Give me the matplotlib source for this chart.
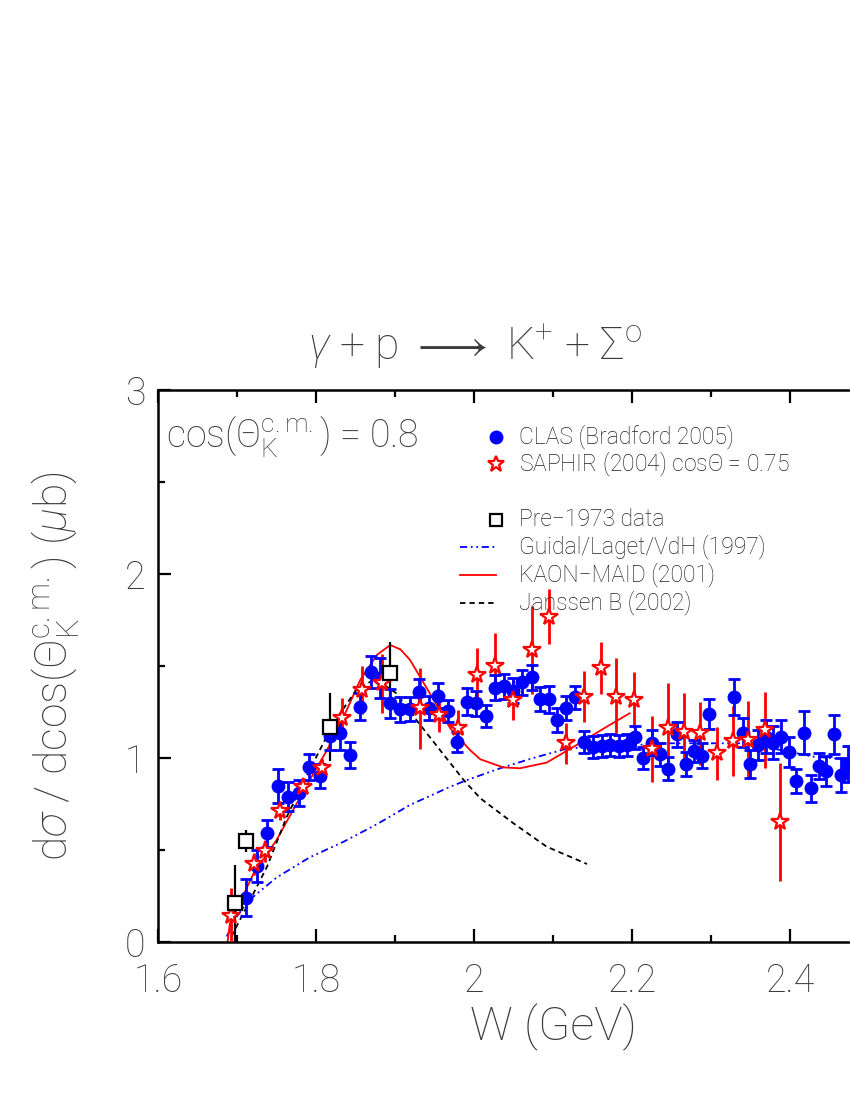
import matplotlib
matplotlib.use("Agg")
import matplotlib.pyplot as plt
from matplotlib.ticker import MultipleLocator

plt.rcParams['font.family'] = ['Roboto', 'DejaVu Sans']
plt.rcParams['font.weight'] = 'light'
plt.rcParams['axes.labelweight'] = 'light'
plt.rcParams['axes.titleweight'] = 'light'
plt.rcParams['mathtext.fontset'] = 'custom'
plt.rcParams['mathtext.rm'] = 'Roboto:light'
plt.rcParams['mathtext.it'] = 'Roboto:italic:light'

# CLAS (Bradford 2005), cos = 0.8
clas_w = [1.711, 1.725, 1.738, 1.752, 1.765, 1.779, 1.791, 1.805, 1.818, 1.830,
          1.843, 1.856, 1.869, 1.881, 1.894, 1.906, 1.919, 1.931, 1.943, 1.955,
          1.967, 1.979, 1.991, 2.003, 2.015, 2.027, 2.038, 2.050, 2.061, 2.073,
          2.084, 2.095, 2.105, 2.117, 2.128, 2.139, 2.150, 2.162, 2.172, 2.183,
          2.194, 2.204, 2.214, 2.225, 2.236, 2.246, 2.257, 2.268, 2.278, 2.289,
          2.298, 2.329, 2.340, 2.349, 2.360, 2.369, 2.379, 2.389, 2.399, 2.408,
          2.418, 2.427, 2.437, 2.446, 2.456, 2.465, 2.474]
clas_y = [0.24, 0.415, 0.59, 0.848, 0.79, 0.81, 0.953, 0.904, 1.12, 1.137,
          1.016, 1.279, 1.466, 1.433, 1.297, 1.264, 1.264, 1.36, 1.27, 1.339,
          1.257, 1.085, 1.306, 1.297, 1.228, 1.382, 1.391, 1.366, 1.411, 1.439,
          1.319, 1.319, 1.207, 1.27, 1.33, 1.089, 1.058, 1.065, 1.072, 1.065,
          1.069, 1.112, 1.0, 1.083, 1.02, 0.942, 1.13, 0.967, 1.038, 1.013,
          1.239, 1.333, 1.138, 0.967, 1.071, 1.116, 1.083, 1.116, 1.034, 0.877,
          1.138, 0.835, 0.957, 0.929, 1.13, 0.908, 0.967]
clas_err = [0.10, 0.087, 0.072, 0.092, 0.079, 0.069, 0.071, 0.065, 0.079, 0.094,
            0.072, 0.072, 0.088, 0.109, 0.079, 0.066, 0.065, 0.07, 0.065, 0.068,
            0.06, 0.054, 0.072, 0.068, 0.061, 0.068, 0.068, 0.068, 0.068, 0.068,
            0.066, 0.074, 0.063, 0.065, 0.061, 0.06, 0.06, 0.06, 0.06, 0.06,
            0.06, 0.063, 0.062, 0.068, 0.063, 0.063, 0.068, 0.063, 0.062, 0.07,
            0.079, 0.099, 0.08, 0.076, 0.08, 0.09, 0.09, 0.09, 0.082, 0.065,
            0.117, 0.072, 0.072, 0.08, 0.106, 0.093, 0.10]

# SAPHIR (2004), cos = 0.75
saphir_w = [1.693, 1.721, 1.735, 1.754, 1.784, 1.808, 1.833, 1.858, 1.884, 1.932,
            1.956, 1.980, 2.004, 2.027, 2.050, 2.073, 2.095, 2.116, 2.139, 2.161,
            2.180, 2.202, 2.225, 2.246, 2.266, 2.286, 2.307, 2.328, 2.347, 2.368,
            2.387]
saphir_y = [0.141, 0.426, 0.496, 0.714, 0.844, 0.944, 1.216, 1.37, 1.406, 1.27,
            1.234, 1.161, 1.451, 1.50, 1.315, 1.587, 1.768, 1.08, 1.333, 1.49,
            1.333, 1.315, 1.047, 1.161, 1.143, 1.134, 1.025, 1.092, 1.098, 1.152,
            0.654]
saphir_err = [0.15, 0.06, 0.06, 0.05, 0.05, 0.05, 0.11, 0.13, 0.16, 0.22,
              0.09, 0.10, 0.145, 0.18, 0.11, 0.24, 0.15, 0.11, 0.14, 0.14,
              0.21, 0.15, 0.18, 0.245, 0.21, 0.17, 0.145, 0.19, 0.21, 0.205,
              0.32]

# Pre-1973 data
old_w = [1.697, 1.712, 1.818, 1.894]
old_y = [0.21, 0.551, 1.167, 1.46]
old_err = [0.21, 0.06, 0.186, 0.17]

# model curves
guidal_w = [1.687, 1.700, 1.716, 1.750, 1.792, 1.835, 1.877, 1.919, 1.970, 1.991,
            2.033, 2.075, 2.117, 2.160, 2.200, 2.250, 2.307, 2.337, 2.380, 2.430,
            2.480]
guidal_y = [0.03, 0.14, 0.23, 0.35, 0.46, 0.545, 0.64, 0.745, 0.844, 0.88,
            0.944, 1.0, 1.05, 1.065, 1.07, 1.08, 1.08, 1.08, 1.05, 1.007,
            0.99]

maid_w = [1.688, 1.691, 1.721, 1.750, 1.771, 1.792, 1.814, 1.835, 1.856, 1.877,
          1.894, 1.907, 1.919, 1.944, 1.970, 1.995, 2.008, 2.037, 2.058, 2.092,
          2.130, 2.168, 2.197]
maid_y = [0.0, 0.10, 0.373, 0.554, 0.717, 0.88, 1.043, 1.224, 1.424, 1.56,
          1.614, 1.59, 1.533, 1.352, 1.161, 1.043, 0.993, 0.949, 0.944, 0.975,
          1.071, 1.17, 1.243]

janssen_w = [1.693, 1.708, 1.738, 1.763, 1.792, 1.822, 1.851, 1.875, 1.902, 1.927,
             1.957, 1.987, 2.008, 2.050, 2.092, 2.143]
janssen_y = [0.03, 0.156, 0.409, 0.681, 0.935, 1.189, 1.37, 1.43, 1.351, 1.207,
             1.043, 0.88, 0.781, 0.645, 0.518, 0.424]

TXT = '#3c3c3c'
BLUE = '#0000ff'
RED = '#ff0000'

fig = plt.figure(figsize=(8.5, 11), dpi=100)
# axes run past the right edge of the page, as in the original
ax = fig.add_axes([158 / 850, 158 / 1100, 790 / 850, 552 / 1100])

ax.plot(guidal_w, guidal_y, color=BLUE, lw=1.3, dashes=[4, 2, 1, 2, 1, 2], zorder=2)
ax.plot(maid_w, maid_y, color=RED, lw=1.3, zorder=2)
ax.plot(janssen_w, janssen_y, color='black', lw=1.3, dashes=[3, 2.2], zorder=2)

ax.errorbar(saphir_w, saphir_y, yerr=saphir_err, fmt='none', ecolor=RED,
            elinewidth=2, zorder=3)
ax.errorbar(old_w, old_y, yerr=old_err, fmt='none', ecolor='black',
            elinewidth=1.6, zorder=3)
ax.errorbar(clas_w, clas_y, yerr=clas_err, fmt='o', color=BLUE, ms=9,
            ecolor=BLUE, elinewidth=2, capsize=4.5, capthick=2, zorder=4)
ax.plot(saphir_w, saphir_y, ls='none', marker='*', ms=13, mfc='white',
        mec=RED, mew=1.6, zorder=5)
ax.plot(old_w, old_y, ls='none', marker='s', ms=10, mfc='white',
        mec='black', mew=1.6, zorder=5)

ax.set_xlim(1.6, 2.6)
ax.set_ylim(0, 3)
ax.xaxis.set_minor_locator(MultipleLocator(0.1))
ax.yaxis.set_minor_locator(MultipleLocator(0.5))
ax.set_xticks([1.6, 1.8, 2.0, 2.2, 2.4])
ax.set_xticklabels(['1.6', '1.8', '2', '2.2', '2.4'])
ax.set_yticks([0, 1, 2, 3])
ax.set_yticklabels(['0', '1', '2', '3'])
ax.tick_params(which='both', direction='in', top=True, right=True, width=1.6,
               labelsize=27, labelcolor=TXT)
ax.tick_params(which='major', length=9.5)
ax.tick_params(which='minor', length=5)
ax.tick_params(axis='x', pad=15)
ax.tick_params(axis='y', pad=9)
for s in ax.spines.values():
    s.set_linewidth(1.8)

ax.set_xlabel('W (GeV)', fontsize=34, color=TXT, labelpad=2)
ax.set_ylabel(r'd$\sigma$ / dcos($\Theta_{\rm K}^{\rm c.m.}$) ($\mu$b)',
              fontsize=32, color=TXT, labelpad=32)
fig.text(475 / 850, 1 - 347 / 1100,
         r'$\gamma$ + p $\longrightarrow$ K$^{+}$ + $\Sigma^{\rm o}$',
         fontsize=32, color=TXT, ha='center', va='center')

ax.text(0.01, 0.915, r'cos($\Theta_{\rm K}^{\rm c.m.}$) = 0.8', transform=ax.transAxes,
        fontsize=27, color=TXT, va='center', ha='left')

# legend drawn by hand, in axes fractions
def fx(px):
    return (px - 158) / 790

def fy(py):
    return (942 - py) / 552

lx0, lx1, tx = fx(460), fx(496), fx(519)
ax.plot([lx1], [fy(437)], 'o', color=BLUE, ms=9, transform=ax.transAxes)
ax.plot([lx1], [fy(464)], '*', ms=12, mfc='white', mec=RED, mew=1.6,
        transform=ax.transAxes)
ax.plot([lx1], [fy(520)], 's', ms=9, mfc='white', mec='black', mew=1.6,
        transform=ax.transAxes)
ax.plot([lx0, lx1], [fy(547)] * 2, color=BLUE, lw=1.3, dashes=[4, 2, 1, 2, 1, 2],
        transform=ax.transAxes)
ax.plot([lx0, lx1], [fy(575)] * 2, color=RED, lw=1.3, transform=ax.transAxes)
ax.plot([lx0, lx1], [fy(603)] * 2, color='black', lw=1.3, dashes=[3, 2.2],
        transform=ax.transAxes)
labels = [(437, 'CLAS (Bradford 2005)'),
          (464, r'SAPHIR (2004) cos$\Theta$ = 0.75'),
          (520, 'Pre\u22121973 data'),
          (547, 'Guidal/Laget/VdH (1997)'),
          (575, 'KAON\u2212MAID (2001)'),
          (603, 'Janssen B (2002)')]
for py, t in labels:
    ax.text(tx, fy(py), t, transform=ax.transAxes, fontsize=16.5, color='#222222',
            va='center', ha='left')

fig.savefig('out.png', dpi=100)
